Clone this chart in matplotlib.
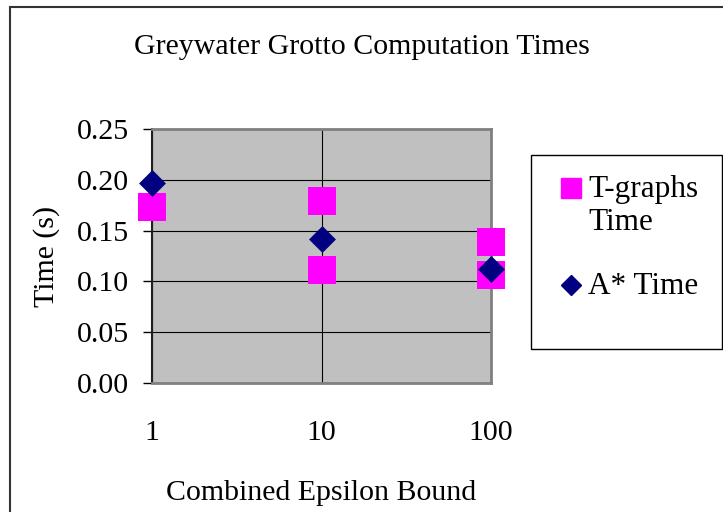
import matplotlib
matplotlib.use("Agg")
import matplotlib.pyplot as plt
from matplotlib.patches import Rectangle
from matplotlib.lines import Line2D

# Data
tgraphs_eps = [1, 10, 10, 100, 100]
tgraphs_time = [0.173, 0.179, 0.111, 0.139, 0.106]
astar_eps = [1, 10, 100]
astar_time = [0.197, 0.142, 0.112]

x_ticks = [1, 10, 100]
x_tick_labels = ["1", "10", "100"]
y_ticks = [0.00, 0.05, 0.10, 0.15, 0.20, 0.25]

PINK = "#FF00FF"
NAVY = "#000080"

plt.rcParams["font.family"] = ["Liberation Serif", "DejaVu Serif"]
plt.rcParams["font.size"] = 21.5

W, H = 723, 512
fig = plt.figure(figsize=(W / 100, H / 100), dpi=100)

def px(x, y):
    # pixel (from top-left) -> figure fraction
    return x / W, 1 - y / H

ax = fig.add_axes([152 / W, (H - 383) / H, (491 - 152) / W, (383 - 129) / H])
ax.set_facecolor("#C0C0C0")

ax.scatter(tgraphs_eps, tgraphs_time, marker="s", s=19.5 ** 2, color=PINK,
           linewidths=0, zorder=3, clip_on=False)
ax.scatter(astar_eps, astar_time, marker="D", s=13.7 ** 2, color=NAVY,
           linewidths=0, zorder=4, clip_on=False)

ax.set_xscale("log")
ax.set_xlim(1, 100)
ax.set_ylim(0, 0.25)
ax.set_xticks(x_ticks, x_tick_labels)
ax.minorticks_off()
ax.set_yticks(y_ticks, [f"{v:.2f}" for v in y_ticks])
ax.tick_params(axis="x", length=0, pad=27)
ax.tick_params(axis="y", length=6.5, width=1, pad=10, direction="out")
ax.grid(True, color="black", linewidth=0.8, zorder=1)
ax.set_axisbelow(True)

for side in ["top", "right", "bottom"]:
    ax.spines[side].set_color("#808080")
    ax.spines[side].set_linewidth(2)
ax.spines["left"].set_color("#202020")
ax.spines["left"].set_linewidth(1.5)

ax.set_ylabel("Time (s)", labelpad=12)
ax.set_xlabel("Combined Epsilon Bound", labelpad=24)

fig.text(*px(362, 47), "Greywater Grotto Computation Times",
         ha="center", va="center")

# outer chart frame
fig.add_artist(Rectangle(px(10, 560), 1.2, (560 - 7) / H, transform=fig.transFigure,
                         fill=False, edgecolor="#333333", linewidth=1.5))

# legend box drawn by hand to match the layout
x0, y0 = px(531, 349)
x1, y1 = px(722, 155)
fig.add_artist(Rectangle((x0, y0), x1 - x0, y1 - y0, transform=fig.transFigure,
                         fill=False, edgecolor="black", linewidth=1))
fig.add_artist(Line2D([px(571, 0)[0]], [px(0, 188)[1]], marker="s", markersize=15,
                      color=PINK, linestyle="none", transform=fig.transFigure))
fig.text(*px(588, 189), "T-graphs", ha="left", va="center", fontsize=22.5)
fig.text(*px(588, 223), "Time", ha="left", va="center", fontsize=22.5)
fig.add_artist(Line2D([px(571, 0)[0]], [px(0, 285)[1]], marker="D", markersize=10.5,
                      color=NAVY, linestyle="none", transform=fig.transFigure))
fig.text(*px(588, 286), "A* Time", ha="left", va="center", fontsize=22.5)

fig.savefig("out.png", dpi=100)
